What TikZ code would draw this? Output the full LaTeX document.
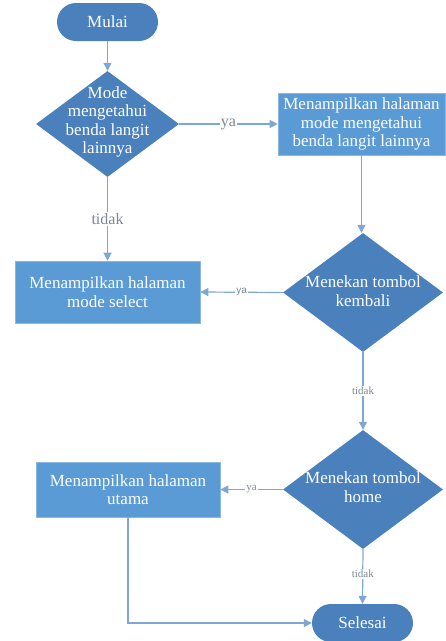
\documentclass[tikz,border=0pt]{standalone}
\usepackage{fontspec}
\setmainfont{Liberation Serif}
\newfontfamily\labsans{Liberation Sans}
\usetikzlibrary{shapes.geometric,arrows.meta}
\definecolor{dfill}{HTML}{4A80BC}
\definecolor{bfill}{HTML}{5B9BD5}
\definecolor{bedge}{HTML}{8DB6E0}
\definecolor{lcol}{HTML}{7FA7D3}
\definecolor{labcol}{HTML}{7C8898}
\begin{document}
\begin{tikzpicture}[x=1pt,y=-1pt,
  term/.style={rectangle,rounded corners=19pt,fill=dfill,minimum width=101pt,minimum height=38pt,inner sep=0pt,text=white,font=\fontsize{17}{18}\selectfont},
  dia/.style={diamond,fill=dfill,inner sep=0pt,aspect=1},
  dtext/.style={text=white,align=center,font=\fontsize{17}{18.5}\selectfont,inner sep=0pt},
  procbox/.style={rectangle,fill=bfill,draw=bedge,line width=0.6pt,inner sep=0pt,text=white,align=center,font=\fontsize{17}{18.5}\selectfont},
  conn/.style={draw=lcol,line width=1.2pt,-{Triangle[length=8pt,width=8pt]}},
  lab/.style={text=labcol,fill=white,inner sep=1pt,font=\fontsize{16}{17}\selectfont},
  slab/.style={text=labcol,fill=white,inner sep=1pt,font=\fontsize{11}{12}\selectfont},
]
\useasboundingbox (0,0) rectangle (446,641);

\node[term] (mulai) at (107.5,22) {Mulai};
\node[dia,minimum width=143pt,minimum height=106pt] (d1) at (107.5,124) {};
\node[dtext] (d1t) at (107.5,122) {Mode\\mengetahui\\benda langit\\lainnya};
\node[procbox,minimum width=167pt,minimum height=62pt] (b2) at (361.5,124) {Menampilkan halaman\\mode mengetahui\\benda langit lainnya};
\node[procbox,minimum width=185pt,minimum height=62pt] (b1) at (107.5,292) {Menampilkan halaman\\mode select};
\node[dia,minimum width=160pt,minimum height=119pt] (d2) at (363,292.5) {};
\node[dtext] (d2t) at (363,291) {Menekan tombol\\kembali};
\node[dia,minimum width=160pt,minimum height=119pt] (d3) at (363,489.5) {};
\node[dtext] (d3t) at (363,487) {Menekan tombol\\home};
\node[procbox,minimum width=184pt,minimum height=55pt] (b3) at (128,489.5) {Menampilkan halaman\\utama};
\node[term] (selesai) at (362.5,623) {Selesai};

\coordinate (bend) at (b3.south |- selesai.west);

\draw[conn] (mulai) -- (d1.north);
\draw[conn] (d1.east) -- node[lab] (lya1) {ya} (b2.west);
\draw[conn] (d1.south) -- node[lab] (ltd1) {tidak} (b1.north);
\draw[conn] (b2.south) -- (b2.south |- d2.north);
\draw[conn] (d2.west) -- node[slab,font=\labsans\fontsize{10}{11}\selectfont] (lya2) {ya} (b1.east);
\draw[conn] (d2.south) -- node[slab] (ltd2) {tidak} (d3.north);
\draw[conn] (d3.west) -- node[slab] (lya3) {ya} (b3.east);
\draw[conn] (d3.south) -- node[slab,pos=0.45] (ltd3) {tidak} (selesai.north);
\draw[conn] (b3.south) -- (bend) -- (selesai.west);
\end{tikzpicture}
\end{document}
